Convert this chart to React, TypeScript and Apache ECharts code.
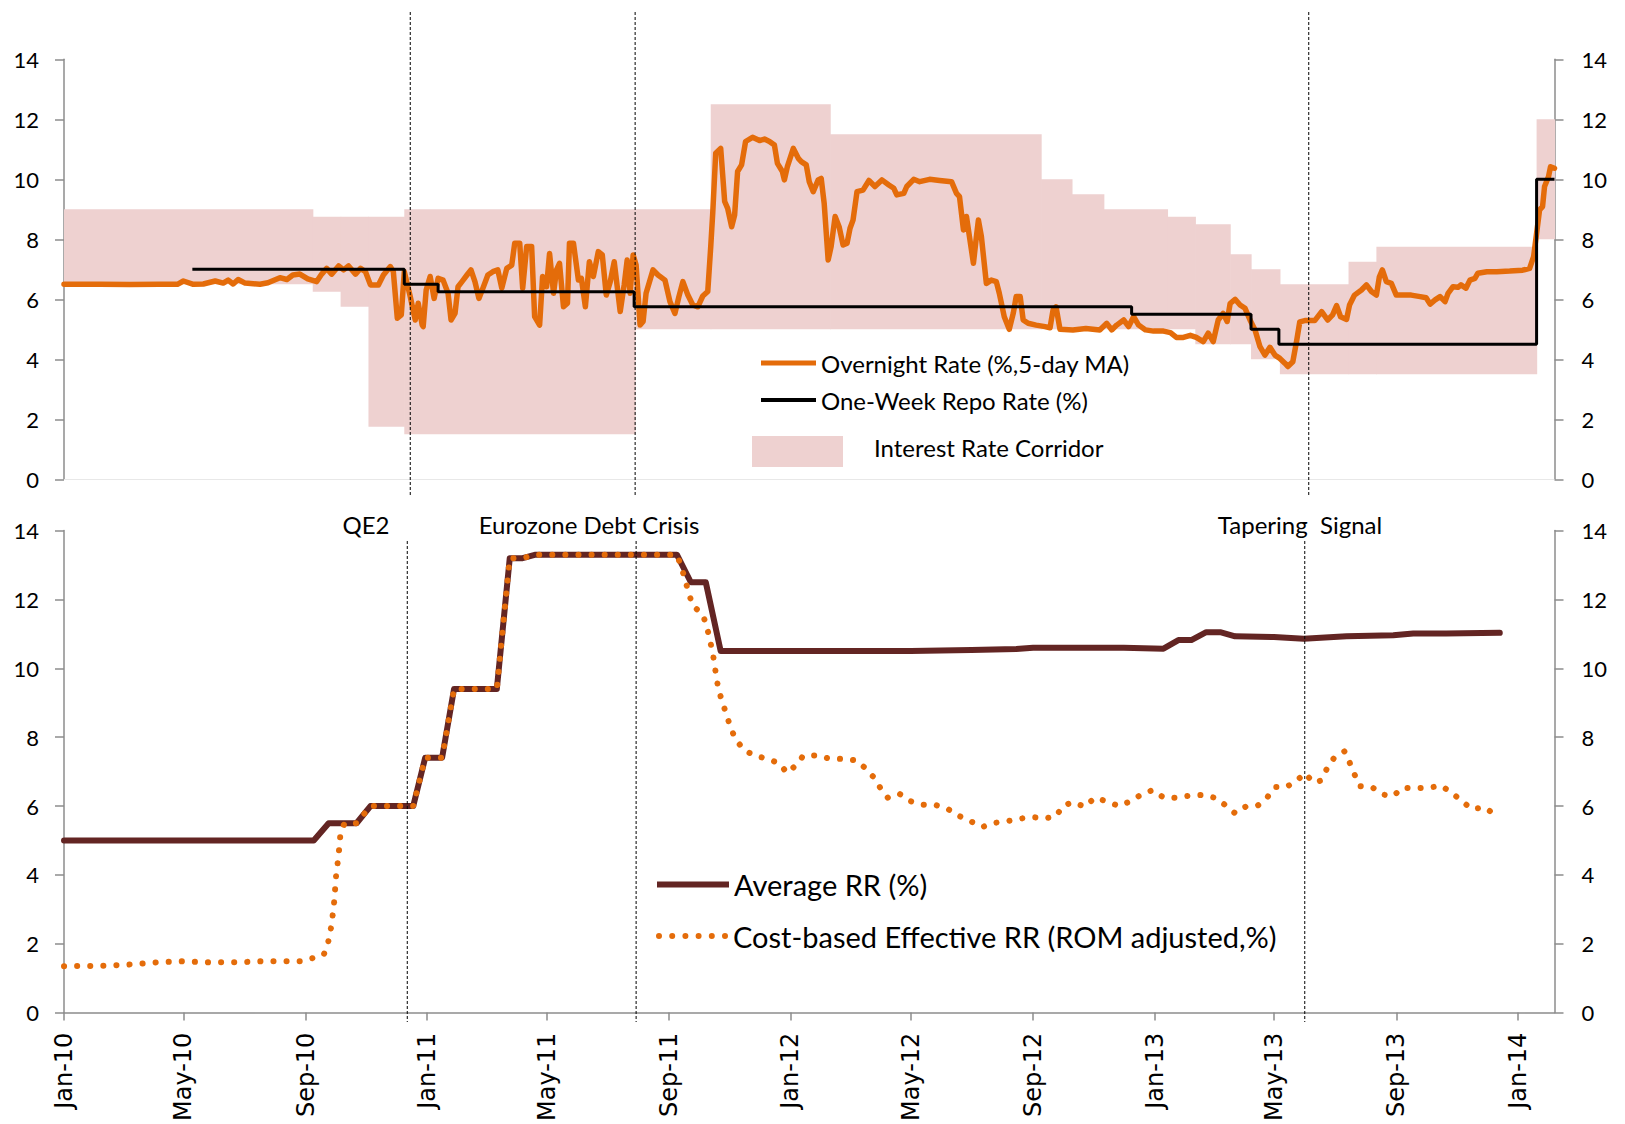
import React, { useEffect, useRef } from 'react';
import * as echarts from 'echarts';

// ---------- DATA ----------
const overnightRate: [string, number][] = [
  ['2010-01-01', 6.5], ['2010-02-06', 6.5], ['2010-03-08', 6.49], ['2010-04-07', 6.5], ['2010-04-25', 6.5],
  ['2010-05-01', 6.61], ['2010-05-11', 6.5], ['2010-05-21', 6.51], ['2010-06-02', 6.61], ['2010-06-10', 6.54],
  ['2010-06-15', 6.64], ['2010-06-20', 6.51], ['2010-06-25', 6.66], ['2010-07-02', 6.54], ['2010-07-17', 6.5],
  ['2010-07-25', 6.55], ['2010-08-06', 6.72], ['2010-08-13', 6.66], ['2010-08-19', 6.81], ['2010-08-26', 6.84],
  ['2010-09-03', 6.68], ['2010-09-12', 6.59], ['2010-09-17', 6.84], ['2010-09-22', 7.03], ['2010-09-27', 6.84],
  ['2010-10-04', 7.11], ['2010-10-09', 6.98], ['2010-10-14', 7.11], ['2010-10-21', 6.84], ['2010-10-26', 7.03],
  ['2010-10-31', 6.92], ['2010-11-05', 6.48], ['2010-11-13', 6.48], ['2010-11-18', 6.81], ['2010-11-25', 7.09],
  ['2010-11-28', 6.92], ['2010-12-02', 5.37], ['2010-12-06', 5.48], ['2010-12-09', 6.92], ['2010-12-15', 6.09],
  ['2010-12-20', 5.31], ['2010-12-23', 5.87], ['2010-12-27', 5.14], ['2010-12-28', 5.09], ['2010-12-31', 6.31],
  ['2011-01-04', 6.76], ['2011-01-08', 6.03], ['2011-01-12', 6.7], ['2011-01-17', 6.64], ['2011-01-22', 6.2],
  ['2011-01-25', 5.31], ['2011-01-29', 5.53], ['2011-02-01', 6.42], ['2011-02-05', 6.59], ['2011-02-10', 6.81],
  ['2011-02-14', 6.98], ['2011-02-18', 6.59], ['2011-02-22', 6.03], ['2011-02-26', 6.37], ['2011-03-03', 6.81],
  ['2011-03-08', 6.92], ['2011-03-13', 6.98], ['2011-03-17', 6.37], ['2011-03-22', 7.03], ['2011-03-27', 7.14],
  ['2011-03-30', 7.87], ['2011-04-04', 7.87], ['2011-04-07', 6.37], ['2011-04-11', 7.76], ['2011-04-16', 7.76],
  ['2011-04-19', 5.42], ['2011-04-24', 5.14], ['2011-04-27', 6.76], ['2011-05-01', 6.42], ['2011-05-04', 7.53],
  ['2011-05-08', 6.2], ['2011-05-11', 6.98], ['2011-05-14', 7.2], ['2011-05-18', 5.75], ['2011-05-22', 5.87],
  ['2011-05-24', 7.87], ['2011-05-28', 7.87], ['2011-06-02', 6.64], ['2011-06-05', 6.7], ['2011-06-09', 5.75],
  ['2011-06-13', 7.25], ['2011-06-17', 6.76], ['2011-06-22', 7.59], ['2011-06-26', 7.48], ['2011-06-30', 6.14],
  ['2011-07-04', 6.59], ['2011-07-08', 7.25], ['2011-07-11', 6.42], ['2011-07-14', 5.59], ['2011-07-18', 6.48],
  ['2011-07-21', 7.31], ['2011-07-24', 6.2], ['2011-07-27', 7.48], ['2011-07-30', 7.14], ['2011-08-03', 5.14],
  ['2011-08-06', 5.26], ['2011-08-09', 6.2], ['2011-08-16', 6.98], ['2011-08-21', 6.81], ['2011-08-28', 6.64],
  ['2011-09-02', 5.92], ['2011-09-07', 5.53], ['2011-09-11', 6.09], ['2011-09-15', 6.59], ['2011-09-20', 6.14],
  ['2011-09-25', 5.81], ['2011-09-30', 5.75], ['2011-10-05', 6.11], ['2011-10-10', 6.26], ['2011-10-13', 7.76],
  ['2011-10-15', 8.87], ['2011-10-18', 10.87], ['2011-10-23', 11.03], ['2011-10-27', 9.26], ['2011-10-30', 9.03],
  ['2011-11-03', 8.42], ['2011-11-06', 8.81], ['2011-11-09', 10.26], ['2011-11-13', 10.48], ['2011-11-17', 11.26],
  ['2011-11-24', 11.4], ['2011-12-01', 11.29], ['2011-12-06', 11.34], ['2011-12-11', 11.26], ['2011-12-16', 11.14],
  ['2011-12-19', 10.53], ['2011-12-24', 10.26], ['2011-12-26', 9.98], ['2011-12-29', 10.42], ['2012-01-04', 11.03],
  ['2012-01-09', 10.7], ['2012-01-12', 10.59], ['2012-01-17', 10.48], ['2012-01-20', 9.92], ['2012-01-24', 9.59],
  ['2012-01-29', 9.98], ['2012-02-01', 10.03], ['2012-02-04', 9.2], ['2012-02-08', 7.31], ['2012-02-11', 7.76],
  ['2012-02-15', 8.76], ['2012-02-19', 8.42], ['2012-02-23', 7.81], ['2012-02-27', 7.87], ['2012-03-01', 8.37],
  ['2012-03-04', 8.64], ['2012-03-08', 9.59], ['2012-03-14', 9.64], ['2012-03-20', 9.96], ['2012-03-26', 9.76],
  ['2012-04-02', 9.98], ['2012-04-09', 9.81], ['2012-04-14', 9.7], ['2012-04-17', 9.48], ['2012-04-24', 9.53],
  ['2012-04-27', 9.76], ['2012-05-04', 10.0], ['2012-05-10', 9.92], ['2012-05-20', 10.0], ['2012-05-30', 9.96],
  ['2012-06-11', 9.92], ['2012-06-16', 9.53], ['2012-06-19', 9.42], ['2012-06-23', 8.31], ['2012-06-26', 8.76],
  ['2012-06-29', 8.09], ['2012-07-03', 7.2], ['2012-07-06', 8.09], ['2012-07-08', 8.64], ['2012-07-11', 8.09],
  ['2012-07-16', 6.53], ['2012-07-21', 6.64], ['2012-07-26', 6.59], ['2012-07-29', 6.2], ['2012-08-03', 5.42],
  ['2012-08-08', 5.0], ['2012-08-12', 5.53], ['2012-08-15', 6.09], ['2012-08-19', 6.09], ['2012-08-22', 5.31],
  ['2012-08-27', 5.2], ['2012-09-04', 5.14], ['2012-09-13', 5.09], ['2012-09-18', 5.05], ['2012-09-21', 5.64],
  ['2012-09-24', 5.75], ['2012-09-28', 5.0], ['2012-10-11', 4.98], ['2012-10-24', 5.03], ['2012-11-07', 4.98],
  ['2012-11-14', 5.2], ['2012-11-19', 4.98], ['2012-11-24', 5.14], ['2012-12-01', 5.31], ['2012-12-06', 5.09],
  ['2012-12-11', 5.42], ['2012-12-16', 5.14], ['2012-12-23', 4.98], ['2012-12-31', 4.94], ['2013-01-10', 4.94],
  ['2013-01-17', 4.89], ['2013-01-23', 4.73], ['2013-01-30', 4.73], ['2013-02-06', 4.8], ['2013-02-12', 4.73],
  ['2013-02-19', 4.59], ['2013-02-24', 4.87], ['2013-03-01', 4.59], ['2013-03-06', 5.31], ['2013-03-11', 5.53],
  ['2013-03-15', 5.26], ['2013-03-18', 5.86], ['2013-03-23', 6.0], ['2013-03-28', 5.81], ['2013-04-02', 5.7],
  ['2013-04-07', 5.31], ['2013-04-12', 4.98], ['2013-04-17', 4.42], ['2013-04-22', 4.14], ['2013-04-27', 4.4],
  ['2013-05-02', 4.14], ['2013-05-07', 4.03], ['2013-05-12', 3.87], ['2013-05-15', 3.76], ['2013-05-20', 3.92],
  ['2013-05-24', 4.64], ['2013-05-27', 5.25], ['2013-06-01', 5.29], ['2013-06-06', 5.29], ['2013-06-11', 5.29],
  ['2013-06-18', 5.59], ['2013-06-24', 5.31], ['2013-06-29', 5.48], ['2013-07-03', 5.79], ['2013-07-07', 5.42],
  ['2013-07-13', 5.33], ['2013-07-16', 5.81], ['2013-07-21', 6.14], ['2013-07-28', 6.31], ['2013-08-02', 6.48],
  ['2013-08-07', 6.26], ['2013-08-12', 6.14], ['2013-08-15', 6.75], ['2013-08-18', 6.98], ['2013-08-22', 6.59],
  ['2013-08-27', 6.53], ['2013-09-01', 6.14], ['2013-09-08', 6.14], ['2013-09-16', 6.14], ['2013-09-25', 6.09],
  ['2013-10-01', 6.05], ['2013-10-05', 5.84], ['2013-10-10', 5.98], ['2013-10-15', 6.09], ['2013-10-20', 5.92],
  ['2013-10-23', 6.2], ['2013-10-28', 6.42], ['2013-11-02', 6.4], ['2013-11-05', 6.48], ['2013-11-10', 6.37],
  ['2013-11-14', 6.64], ['2013-11-19', 6.7], ['2013-11-22', 6.87], ['2013-12-01', 6.92], ['2013-12-11', 6.92],
  ['2013-12-24', 6.94], ['2014-01-06', 6.97], ['2014-01-13', 7.03], ['2014-01-17', 7.42], ['2014-01-20', 8.2],
  ['2014-01-23', 8.98], ['2014-01-26', 9.09], ['2014-01-28', 9.76], ['2014-02-01', 10.09], ['2014-02-03', 10.42],
  ['2014-02-07', 10.37],
];

const repoDates = ['2010-05-10', '2010-12-09', '2011-01-12', '2011-07-28', '2012-12-09', '2013-04-08', '2013-05-06', '2014-01-20', '2014-02-07'];
const repoValues = [7.0, 6.5, 6.25, 5.75, 5.5, 5.0, 4.5, 10.0, 10.0];

const corridorDates = ['2010-01-01', '2010-09-08', '2010-10-06', '2010-11-03', '2010-12-09', '2011-07-29', '2011-10-13', '2012-02-10', '2012-09-09', '2012-10-10', '2012-11-11', '2013-01-14', '2013-02-11', '2013-03-18', '2013-04-08', '2013-05-07', '2013-07-15', '2013-08-12', '2014-01-20', '2014-02-07'];
const corridorLower = [6.5, 6.25, 5.75, 1.75, 1.5, 5.0, 5.0, 5.0, 5.0, 5.0, 5.0, 5.0, 4.5, 4.5, 4.0, 3.5, 3.5, 3.5, 8.0, 8.0];
const corridorUpper = [9.0, 8.75, 8.75, 8.75, 9.0, 9.0, 12.5, 11.5, 10.0, 9.5, 9.0, 8.75, 8.5, 7.5, 7.0, 6.5, 7.25, 7.75, 12.0, 12.0];

const averageRR: [string, number][] = [
  ['2010-01-01', 5.0], ['2010-09-09', 5.0], ['2010-09-24', 5.5], ['2010-10-22', 5.5], ['2010-11-05', 6.0],
  ['2010-12-18', 6.0], ['2010-12-30', 7.4], ['2011-01-16', 7.4], ['2011-01-28', 9.4], ['2011-03-12', 9.4],
  ['2011-03-25', 13.2], ['2011-04-07', 13.2], ['2011-04-20', 13.3], ['2011-09-09', 13.3], ['2011-09-23', 12.5],
  ['2011-10-08', 12.5], ['2011-10-23', 10.5], ['2012-05-01', 10.5], ['2012-07-01', 10.53], ['2012-08-15', 10.56],
  ['2012-09-01', 10.6], ['2012-12-01', 10.6], ['2013-01-10', 10.57], ['2013-01-25', 10.82], ['2013-02-07', 10.82],
  ['2013-02-22', 11.05], ['2013-03-08', 11.05], ['2013-03-23', 10.93], ['2013-05-01', 10.91], ['2013-05-31', 10.86],
  ['2013-07-13', 10.93], ['2013-08-29', 10.96], ['2013-09-18', 11.01], ['2013-10-21', 11.01], ['2013-12-14', 11.03],
];

const effectiveRR: [string, number][] = [
  ['2010-01-01', 1.35], ['2010-02-11', 1.36], ['2010-03-09', 1.4], ['2010-04-04', 1.46], ['2010-04-30', 1.49],
  ['2010-05-26', 1.46], ['2010-06-22', 1.46], ['2010-07-19', 1.49], ['2010-08-14', 1.49], ['2010-08-27', 1.49],
  ['2010-09-09', 1.59], ['2010-09-19', 1.68], ['2010-09-23', 1.97], ['2010-09-27', 2.56], ['2010-09-30', 3.33],
  ['2010-10-01', 3.86], ['2010-10-04', 4.58], ['2010-10-06', 5.25], ['2010-10-10', 5.5], ['2010-10-22', 5.5],
  ['2010-11-05', 6.0], ['2010-12-18', 6.0], ['2010-12-30', 7.4], ['2011-01-16', 7.4], ['2011-01-28', 9.4],
  ['2011-03-12', 9.4], ['2011-03-25', 13.2], ['2011-04-07', 13.2], ['2011-04-20', 13.3], ['2011-09-09', 13.3],
  ['2011-09-13', 12.98], ['2011-09-17', 12.6], ['2011-09-21', 12.17], ['2011-09-25', 11.82], ['2011-10-05', 11.56],
  ['2011-10-09', 11.22], ['2011-10-12', 10.84], ['2011-10-15', 10.45], ['2011-10-19', 9.68], ['2011-10-21', 9.36],
  ['2011-10-25', 8.99], ['2011-10-29', 8.64], ['2011-11-02', 8.27], ['2011-11-07', 7.94], ['2011-11-15', 7.64],
  ['2011-11-26', 7.46], ['2011-12-08', 7.38], ['2011-12-20', 7.25], ['2011-12-29', 6.96], ['2012-01-06', 7.17],
  ['2012-01-14', 7.46], ['2012-01-27', 7.47], ['2012-02-09', 7.38], ['2012-02-22', 7.37], ['2012-03-07', 7.33],
  ['2012-03-16', 7.11], ['2012-03-25', 6.83], ['2012-04-01', 6.5], ['2012-04-08', 6.24], ['2012-04-20', 6.35],
  ['2012-05-01', 6.14], ['2012-05-13', 6.04], ['2012-05-26', 6.03], ['2012-06-07', 5.92], ['2012-06-18', 5.72],
  ['2012-06-30', 5.56], ['2012-07-12', 5.39], ['2012-07-24', 5.51], ['2012-08-06', 5.56], ['2012-08-18', 5.63],
  ['2012-08-31', 5.68], ['2012-09-13', 5.64], ['2012-09-24', 5.7], ['2012-10-01', 6.01], ['2012-10-11', 6.11],
  ['2012-10-23', 5.98], ['2012-11-02', 6.24], ['2012-11-14', 6.14], ['2012-11-26', 6.0], ['2012-12-08', 6.14],
  ['2012-12-19', 6.34], ['2012-12-30', 6.46], ['2013-01-10', 6.25], ['2013-01-23', 6.24], ['2013-02-05', 6.3],
  ['2013-02-18', 6.32], ['2013-03-03', 6.24], ['2013-03-13', 6.03], ['2013-03-23', 5.79], ['2013-04-03', 5.99],
  ['2013-04-15', 6.02], ['2013-04-24', 6.24], ['2013-05-02', 6.55], ['2013-05-13', 6.55], ['2013-05-23', 6.71],
  ['2013-06-01', 6.95], ['2013-06-10', 6.68], ['2013-06-17', 6.74], ['2013-06-23', 7.07], ['2013-06-30', 7.38],
  ['2013-07-11', 7.59], ['2013-07-16', 7.27], ['2013-07-21', 6.92], ['2013-07-26', 6.58], ['2013-08-08', 6.54],
  ['2013-08-19', 6.33], ['2013-08-29', 6.29], ['2013-09-07', 6.53], ['2013-09-20', 6.52], ['2013-10-03', 6.53],
  ['2013-10-16', 6.59], ['2013-10-27', 6.38], ['2013-11-06', 6.14], ['2013-11-16', 5.91], ['2013-11-29', 5.96],
  ['2013-12-10', 5.73],
];

const xTickDates = ['2010-01-01', '2010-05-01', '2010-09-01', '2011-01-01', '2011-05-01', '2011-09-01', '2012-01-01', '2012-05-01', '2012-09-01', '2013-01-01', '2013-05-01', '2013-09-01', '2014-01-01'];
const xTickLabels = ['Jan-10', 'May-10', 'Sep-10', 'Jan-11', 'May-11', 'Sep-11', 'Jan-12', 'May-12', 'Sep-12', 'Jan-13', 'May-13', 'Sep-13', 'Jan-14'];
const xMin = '2010-01-01';
const xMax = '2014-02-07';

const eventNames = ['QE2', 'Eurozone Debt Crisis', 'Tapering  Signal'];
const eventDatesTop = ['2010-12-15', '2011-07-29', '2013-06-05'];
const eventDatesBottom = ['2010-12-12', '2011-07-30', '2013-06-01'];

const names = {
  overnight: 'Overnight Rate (%,5-day MA)',
  repo: 'One-Week Repo Rate (%)',
  corridor: 'Interest Rate Corridor',
  avg: 'Average RR (%)',
  eff: 'Cost-based Effective RR (ROM adjusted,%)',
};

// ---------- STYLE ----------
const W = 1625;
const H = 1124;
const FONT = 'Lato, "Open Sans", sans-serif';
const ORANGE = '#E46C0A';
const BROWN = '#632523';
const PINK = '#EED1D0';
const AXIS_GRAY = '#8c8c8c';

const ts = (d: string) => Date.UTC(+d.slice(0, 4), +d.slice(5, 7) - 1, +d.slice(8, 10));

const dotsIcon =
  'path://' +
  Array.from({ length: 6 }, (_, i) => {
    const cx = 3 + i * 13.2;
    return `M${cx - 3} 3a3 3 0 1 0 6 0a3 3 0 1 0 -6 0Z`;
  }).join(' ');

// pink swatch (91x31) with an empty 8px strip above it, so the label sits slightly higher
const corridorIcon = 'path://M0 0L0.01 0Z M0 8h91v31h-91Z';

export default function App() {
  const ref = useRef<HTMLDivElement>(null);

  useEffect(() => {
    if (!ref.current) return;
    const chart = echarts.init(ref.current, null, { renderer: 'svg', width: W, height: H });

    const tickTs = xTickDates.map(ts);
    const yAxisCommon = (gridIndex: number, position: 'left' | 'right') => ({
      type: 'value',
      gridIndex,
      position,
      min: 0,
      max: 14,
      interval: 2,
      axisLine: { show: true, lineStyle: { color: AXIS_GRAY, width: 1.5 } },
      axisTick: { show: true, length: 9, lineStyle: { color: AXIS_GRAY, width: 1.5 } },
      splitLine: { show: false },
      axisLabel: {
        color: '#000',
        fontFamily: FONT,
        fontSize: 22,
        margin: position === 'left' ? 25 : 27,
      },
    });

    const legendBase = {
      orient: 'horizontal',
      padding: 0,
      selectedMode: false,
      itemStyle: { borderWidth: 0 },
      textStyle: { color: '#000', fontFamily: FONT, fontSize: 24 },
    };

    const corridorRects = corridorDates.slice(0, -1).map((d, i) => [
      ts(d),
      ts(corridorDates[i + 1]),
      corridorLower[i],
      corridorUpper[i],
    ]);

    const option: any = {
      animation: false,
      backgroundColor: '#fff',
      grid: [
        { left: 64, right: 70.5, top: 59.3, height: 420, containLabel: false },
        { left: 64, right: 70.5, top: 530.6, height: 484.4, containLabel: false },
      ],
      xAxis: [
        {
          type: 'value',
          gridIndex: 0,
          min: ts(xMin),
          max: ts(xMax),
          axisLine: { show: true, onZero: false, lineStyle: { color: '#e8e8e8', width: 1 } },
          axisTick: { show: false },
          axisLabel: { show: false },
          splitLine: { show: false },
        },
        {
          type: 'value',
          gridIndex: 1,
          min: ts(xMin),
          max: ts(xMax),
          axisLine: { show: true, onZero: false, lineStyle: { color: AXIS_GRAY, width: 1.5 } },
          axisTick: { show: true, length: 8, customValues: tickTs, lineStyle: { color: AXIS_GRAY, width: 1.5 } },
          splitLine: { show: false },
          axisLabel: {
            show: true,
            customValues: tickTs,
            rotate: 90,
            margin: 20,
            color: '#000',
            fontFamily: '"DejaVu Sans", Verdana, sans-serif',
            fontSize: 24,
            formatter: (v: number) => {
              const i = tickTs.findIndex((t) => Math.abs(t - v) < 43200000);
              return i >= 0 ? xTickLabels[i] : '';
            },
          },
        },
      ],
      yAxis: [yAxisCommon(0, 'left'), yAxisCommon(0, 'right'), yAxisCommon(1, 'left'), yAxisCommon(1, 'right')],
      legend: [
        { ...legendBase, data: [names.overnight], left: 761, top: 351, icon: 'rect', itemWidth: 55, itemHeight: 5 },
        { ...legendBase, data: [names.repo], left: 761, top: 388, icon: 'rect', itemWidth: 55, itemHeight: 4 },
        {
          ...legendBase,
          data: [names.corridor],
          left: 752,
          top: 428,
          icon: corridorIcon,
          itemWidth: 91,
          itemHeight: 39,
          textStyle: { ...legendBase.textStyle, padding: [0, 0, 0, 26] },
        },
        {
          ...legendBase,
          data: [names.avg],
          left: 657,
          top: 870,
          icon: 'rect',
          itemWidth: 72,
          itemHeight: 6,
          textStyle: { ...legendBase.textStyle, fontSize: 29 },
        },
        {
          ...legendBase,
          data: [names.eff],
          left: 656,
          top: 921.5,
          icon: dotsIcon,
          itemWidth: 72,
          itemHeight: 6,
          textStyle: { ...legendBase.textStyle, fontSize: 29 },
        },
      ],
      series: [
        {
          name: names.corridor,
          type: 'custom',
          xAxisIndex: 0,
          yAxisIndex: 0,
          silent: true,
          color: PINK,
          itemStyle: { color: PINK },
          encode: { x: [0, 1], y: [2, 3] },
          data: corridorRects,
          renderItem: (_params: any, api: any) => {
            const p1 = api.coord([api.value(0), api.value(3)]);
            const p2 = api.coord([api.value(1), api.value(2)]);
            return {
              type: 'rect',
              shape: { x: p1[0], y: p1[1], width: p2[0] - p1[0] + 0.6, height: p2[1] - p1[1] },
              style: { fill: PINK },
            };
          },
          z: 1,
        },
        {
          name: names.overnight,
          type: 'line',
          xAxisIndex: 0,
          yAxisIndex: 0,
          symbol: 'none',
          color: ORANGE,
          lineStyle: { width: 5.5, join: 'round', cap: 'round' },
          data: overnightRate.map(([d, v]) => [ts(d), v]),
          z: 3,
        },
        {
          name: names.repo,
          type: 'line',
          xAxisIndex: 0,
          yAxisIndex: 0,
          step: 'end',
          symbol: 'none',
          color: '#000',
          lineStyle: { width: 3 },
          data: repoDates.map((d, i) => [ts(d), repoValues[i]]),
          z: 4,
        },
        {
          name: names.avg,
          type: 'line',
          xAxisIndex: 1,
          yAxisIndex: 2,
          symbol: 'none',
          color: BROWN,
          lineStyle: { width: 6, join: 'round', cap: 'round' },
          data: averageRR.map(([d, v]) => [ts(d), v]),
          z: 3,
        },
        {
          name: names.eff,
          type: 'line',
          xAxisIndex: 1,
          yAxisIndex: 2,
          symbol: 'none',
          color: ORANGE,
          lineStyle: { width: 6, type: [0.1, 13], cap: 'round' },
          data: effectiveRR.map(([d, v]) => [ts(d), v]),
          z: 4,
        },
      ],
    };

    chart.setOption(option);

    const graphics: any[] = [];
    eventDatesTop.forEach((d) => {
      const x = chart.convertToPixel({ xAxisIndex: 0 } as any, ts(d)) as number;
      graphics.push({
        type: 'line',
        z: 100,
        shape: { x1: x, y1: 12, x2: x, y2: 495 },
        style: { stroke: '#000', lineWidth: 1, lineDash: [3, 2] },
      });
    });
    eventDatesBottom.forEach((d) => {
      const x = chart.convertToPixel({ xAxisIndex: 1 } as any, ts(d)) as number;
      graphics.push({
        type: 'line',
        z: 100,
        shape: { x1: x, y1: 541, x2: x, y2: 1022 },
        style: { stroke: '#000', lineWidth: 1, lineDash: [3, 2] },
      });
    });
    const labelCenters = [366, 589, 1300];
    eventNames.forEach((name, i) => {
      graphics.push({
        type: 'text',
        z: 100,
        x: labelCenters[i],
        y: 524,
        style: {
          text: name,
          fill: '#000',
          fontFamily: FONT,
          fontSize: 24,
          align: 'center',
          verticalAlign: 'middle',
        },
      });
    });
    chart.setOption({ graphic: graphics });

    return () => chart.dispose();
  }, []);

  return (
    <div
      ref={ref}
      style={{ position: 'fixed', left: 0, top: 0, width: W, height: H, background: '#fff' }}
    />
  );
}
